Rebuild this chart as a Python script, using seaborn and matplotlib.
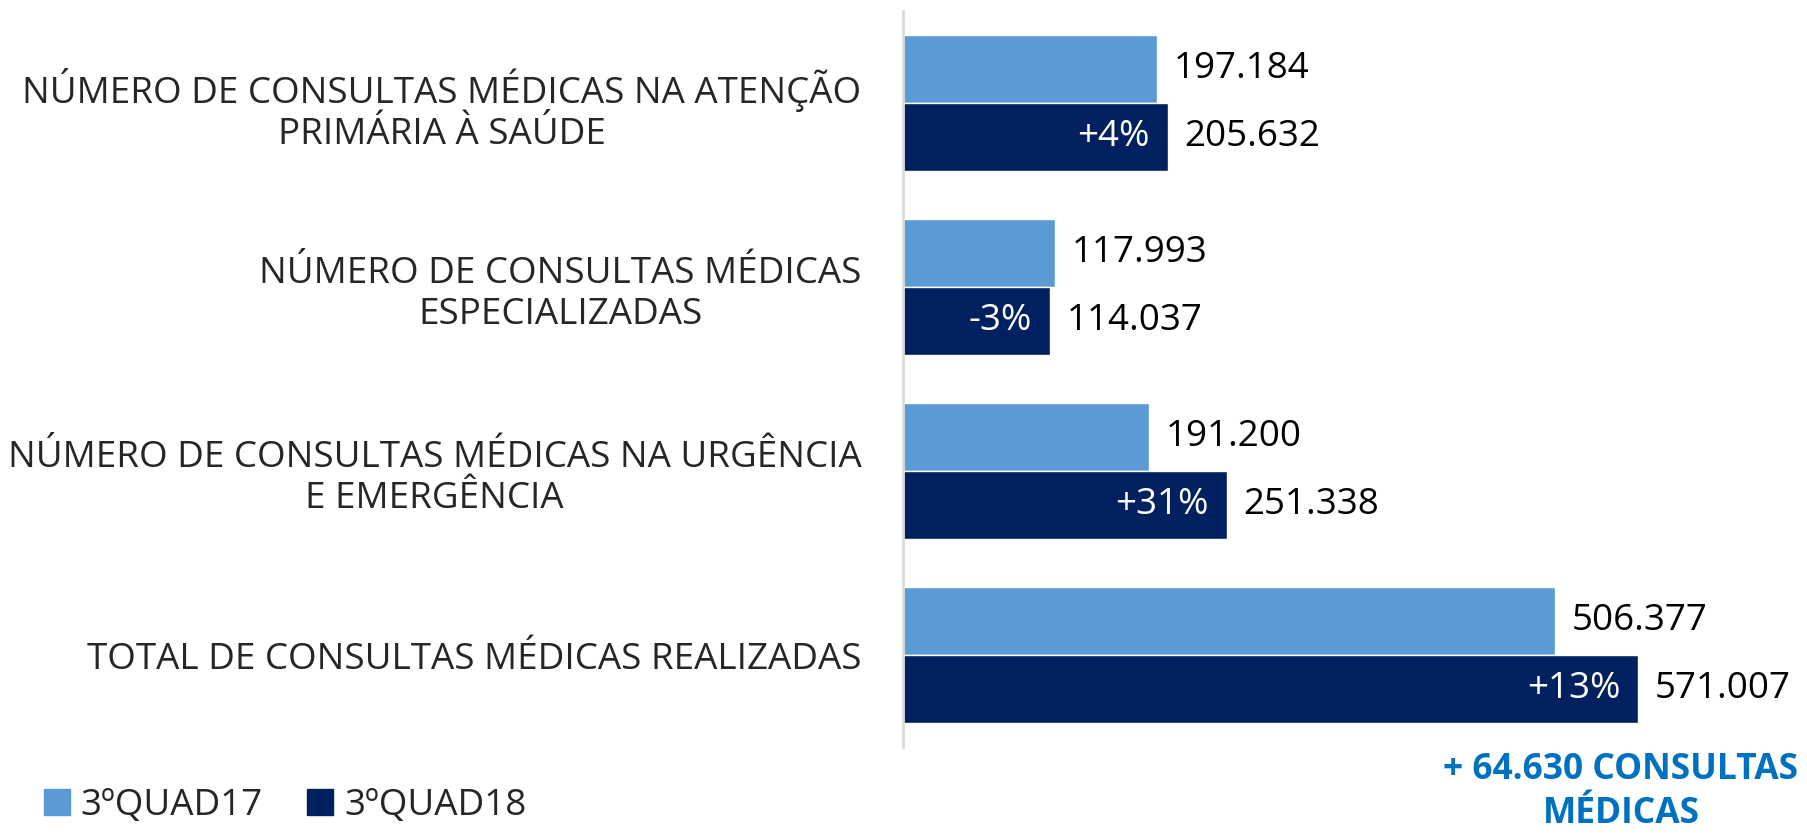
import pandas as pd
import seaborn as sns
import matplotlib.pyplot as plt

# categories, top to bottom
categorias = [
    'NÚMERO DE CONSULTAS MÉDICAS NA ATENÇÃO\nPRIMÁRIA À SAÚDE',
    'NÚMERO DE CONSULTAS MÉDICAS\nESPECIALIZADAS',
    'NÚMERO DE CONSULTAS MÉDICAS NA URGÊNCIA\nE EMERGÊNCIA',
    'TOTAL DE CONSULTAS MÉDICAS REALIZADAS',
]
periodos = ['3ºQUAD17', '3ºQUAD18']
quad17 = [197184, 117993, 191200, 506377]
quad18 = [205632, 114037, 251338, 571007]
variacao = ['+4%', '-3%', '+31%', '+13%']
destaque = '+ 64.630 CONSULTAS\nMÉDICAS'

cores = ['#5B9BD5', '#002060']

df = pd.DataFrame({
    'categoria': categorias * 2,
    'periodo': [periodos[0]] * 4 + [periodos[1]] * 4,
    'valor': quad17 + quad18,
})

sns.set_style('white')
plt.rcParams['font.family'] = ['Open Sans', 'DejaVu Sans']

fig = plt.figure(figsize=(18.07, 8.34), dpi=100)
ax = fig.add_axes([0.4997, 0.1043, 0.5003, 0.8825])

sns.barplot(data=df, x='valor', y='categoria', hue='periodo',
            order=categorias, hue_order=periodos, palette=cores,
            width=0.74, orient='h', ax=ax, legend=False, saturation=1)

ax.set_xlim(0, 702000)
ax.set_ylim(3.5, -0.5)
ax.set_xlabel('')
ax.set_ylabel('')
ax.set_xticks([])
for s in ['top', 'right', 'bottom']:
    ax.spines[s].set_visible(False)
ax.spines['left'].set_color('#D9D9D9')
ax.spines['left'].set_linewidth(2)
ax.tick_params(axis='y', length=0, pad=30, labelsize=26.5)
for lbl in ax.get_yticklabels():
    lbl.set_multialignment('center')

# value labels
for cont, vals in zip(ax.containers, [quad17, quad18]):
    ax.bar_label(cont, labels=[f'{v:,}'.replace(',', '.') for v in vals],
                 padding=12, fontsize=26.5, color='black')

# percentage labels inside the dark bars
for bar, txt in zip(ax.containers[1], variacao):
    ax.text(bar.get_width() - 14000, bar.get_y() + bar.get_height() / 2, txt,
            ha='right', va='center', color='white', fontsize=26.5)

# legend
handles = [plt.Rectangle((0, 0), 1, 1, color=c) for c in cores]
fig.legend(handles, periodos, loc='lower left', bbox_to_anchor=(0.006, -0.028),
           ncol=2, frameon=False, fontsize=26.5, handlelength=0.7,
           handleheight=0.7, handletextpad=0.3, columnspacing=1.2)

fig.text(0.897, 0.05, destaque, ha='center', va='center', color='#0070C0',
         fontsize=25.5, fontweight='bold', linespacing=1.3)

fig.savefig('out.png', dpi=100)
